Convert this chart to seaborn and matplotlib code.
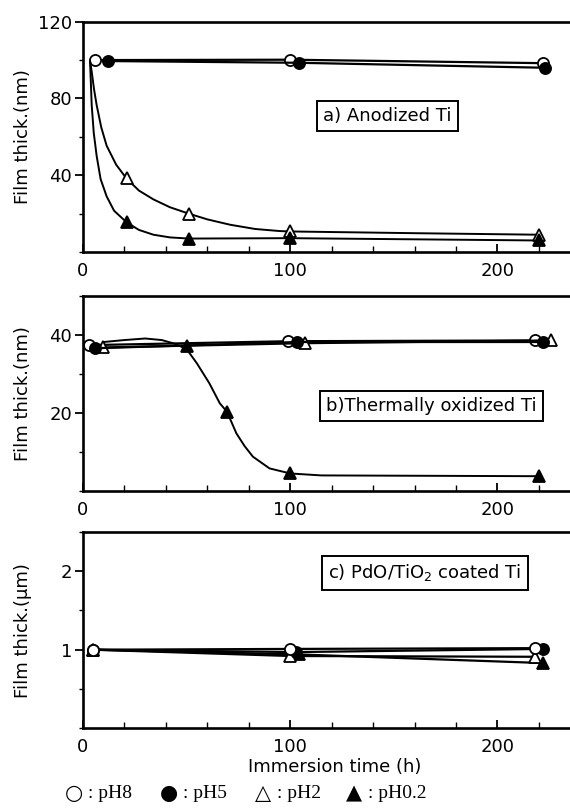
import matplotlib
matplotlib.use("Agg")
import matplotlib.pyplot as plt
from matplotlib.ticker import MultipleLocator
import seaborn as sns

# ---- panel a) anodized Ti  (h, nm)
a_t_ph8 = [6, 100, 222]
a_v_ph8 = [100, 100.2, 98.4]
a_t_ph5 = [12, 104, 223]
a_v_ph5 = [99.5, 98.6, 96]
a_t_ph2 = [21, 51, 100, 220]
a_v_ph2 = [38.3, 20, 10.7, 9]
a_t_ph02 = [21, 51, 100, 220]
a_v_ph02 = [15.5, 7, 7.2, 6]
# hand drawn curves
a_curve_ph2_t = [3.4, 4.2, 5.3, 6.6, 8.8, 11.4, 16, 21, 27, 34, 42, 51, 60, 71, 83, 95, 100, 160, 220]
a_curve_ph2_v = [99.5, 94, 85, 76.5, 65, 55.4, 45.5, 38.3, 32, 27.4, 23.3, 20, 17, 14.2, 12, 10.9, 10.7, 9.8, 9]
a_curve_ph02_t = [3.4, 3.8, 4.2, 5.2, 6.6, 8.5, 11.4, 15, 21, 27, 34, 42, 51, 100, 220]
a_curve_ph02_v = [99.5, 88, 76.5, 62, 50, 38, 29, 21.5, 15.5, 11.5, 9, 7.6, 7, 7.2, 6]

# ---- panel b) thermally oxidized Ti  (h, nm)
b_t_ph8 = [3, 99, 218]
b_v_ph8 = [37.4, 38.4, 38.6]
b_t_ph5 = [6, 103.5, 222]
b_v_ph5 = [36.6, 38.2, 38.2]
b_t_ph2 = [9.5, 107, 226]
b_v_ph2 = [36.8, 37.9, 38.6]
b_t_ph02 = [50, 69.5, 100, 220]
b_v_ph02 = [37.3, 20.3, 4.5, 3.8]
b_curve_t = [10, 20, 30, 38, 44, 50, 55, 61, 66, 69.5, 74, 78, 82, 90, 100, 115, 220]
b_curve_v = [38.2, 38.7, 39.1, 38.7, 37.8, 36.4, 32.7, 27.6, 22.5, 20.3, 14.8, 11.5, 8.8, 5.8, 4.5, 4.0, 3.8]

# ---- panel c) PdO/TiO2 coated Ti  (h, um)
c_t_ph8 = [5, 100, 218]
c_v_ph8 = [1.0, 1.01, 1.02]
c_t_ph5 = [5, 103, 222]
c_v_ph5 = [1.0, 0.97, 1.01]
c_t_ph2 = [5, 100, 218]
c_v_ph2 = [1.0, 0.92, 0.91]
c_t_ph02 = [5, 104, 222]
c_v_ph02 = [1.0, 0.94, 0.83]

x_ticks = [0, 100, 200]
labels = ["a) Anodized Ti", "b)Thermally oxidized Ti", r"c) PdO/TiO$_2$ coated Ti"]
ylabels = ["Film thick.(nm)", "Film thick.(nm)", "Film thick.(\u03bcm)"]
legend_sym = ["\u25cb", "\u25cf", "\u25b3", "\u25b2"]
legend_lab = [": pH8", ": pH5", ": pH2", ": pH0.2"]

sns.set_style("ticks")
plt.rcParams["font.family"] = ["DejaVu Sans"]
plt.rcParams["mathtext.fontset"] = "dejavusans"
for k in ["text.color", "axes.labelcolor", "axes.edgecolor", "xtick.color", "ytick.color"]:
    plt.rcParams[k] = "black"

fig = plt.figure(figsize=(5.7, 8.1), dpi=100)
ax_a = fig.add_axes([0.1456, 0.6889, 0.8544, 0.2843])
ax_b = fig.add_axes([0.1456, 0.3938, 0.8544, 0.2408])
ax_c = fig.add_axes([0.1456, 0.1010, 0.8544, 0.2422])

OPEN = dict(markerfacecolor="white", markeredgecolor="black")
FULL = dict(markerfacecolor="black", markeredgecolor="black")


def series(ax, t, v, marker, face, ms=8, lw=1.6):
    sns.lineplot(x=t, y=v, ax=ax, color="black", lw=lw, sort=False, estimator=None,
                 marker=marker, markersize=ms, markeredgewidth=1.3, **face)


def curve(ax, t, v):
    sns.lineplot(x=t, y=v, ax=ax, color="black", lw=1.4, sort=False, estimator=None)


def points(ax, t, v, marker, face, ms=8):
    sns.lineplot(x=t, y=v, ax=ax, color="black", lw=0, sort=False, estimator=None,
                 marker=marker, markersize=ms, markeredgewidth=1.3, **face)


# a
series(ax_a, a_t_ph8, a_v_ph8, "o", OPEN)
series(ax_a, a_t_ph5, a_v_ph5, "o", FULL)
curve(ax_a, a_curve_ph2_t, a_curve_ph2_v)
curve(ax_a, a_curve_ph02_t, a_curve_ph02_v)
points(ax_a, a_t_ph2, a_v_ph2, "^", OPEN)
points(ax_a, a_t_ph02, a_v_ph02, "^", FULL)

# b
series(ax_b, b_t_ph8, b_v_ph8, "o", OPEN)
series(ax_b, b_t_ph2, b_v_ph2, "^", OPEN)
series(ax_b, b_t_ph5, b_v_ph5, "o", FULL)
curve(ax_b, b_curve_t, b_curve_v)
points(ax_b, b_t_ph02, b_v_ph02, "^", FULL)

# c
series(ax_c, c_t_ph02, c_v_ph02, "^", FULL)
series(ax_c, c_t_ph2, c_v_ph2, "^", OPEN)
series(ax_c, c_t_ph5, c_v_ph5, "o", FULL)
series(ax_c, c_t_ph8, c_v_ph8, "o", OPEN)

limits = [(0, 120, 40, 20), (0, 50, 20, 10), (0, 2.5, 1, 0.5)]
boxes = [(147, 70.8), (168, 21.8), (165, 1.98)]
for ax, (y0, y1, maj, mnr), lab, yl, (bx, by) in zip([ax_a, ax_b, ax_c], limits, labels, ylabels, boxes):
    ax.set_xlim(0, 235)
    ax.set_ylim(y0, y1)
    ax.set_xticks(x_ticks)
    ax.xaxis.set_minor_locator(MultipleLocator(20))
    ax.yaxis.set_minor_locator(MultipleLocator(mnr))
    if maj == 1:
        ax.set_yticks([1, 2])
        ax.set_yticklabels(["1", "2"])
    else:
        ax.set_yticks([t for t in range(maj, int(y1) + 1, maj)])
    ax.tick_params(axis="x", direction="in", length=6, width=1.3, labelsize=13, pad=7)
    ax.tick_params(axis="x", which="minor", direction="in", length=4, width=1.0)
    ax.tick_params(axis="y", direction="out", length=6, width=1.3, labelsize=13, pad=2)
    ax.tick_params(axis="y", which="minor", direction="out", length=3, width=1.0)
    for s in ["left", "bottom", "top"]:
        ax.spines[s].set_linewidth(1.9)
        ax.spines[s].set_visible(True)
    ax.spines["right"].set_visible(False)
    ax.set_ylabel(yl, fontsize=13)
    ax.yaxis.set_label_coords(-0.105, 0.5)
    ax.text(bx, by, lab, fontsize=13, ha="center", va="center",
            bbox=dict(boxstyle="square,pad=0.35", fc="white", ec="black", lw=1.4))

ax_c.set_xlabel("Immersion time (h)", fontsize=13)
ax_c.xaxis.set_label_coords(0.517, -0.20)
ax_c.xaxis.label.set_va("center")

# legend line under the figure: symbol + serif label
sym_x = [74, 169, 263, 354]
for sx, sym, lab in zip(sym_x, legend_sym, legend_lab):
    fig.text(sx / 570, 1 - 793 / 810, sym, ha="center", va="center", fontsize=15,
             family=["DejaVu Sans"])
    fig.text((sx + 14) / 570, 1 - 794 / 810, lab, ha="left", va="center", fontsize=14,
             family=["Liberation Serif", "DejaVu Sans"])

fig.savefig("out.png", dpi=100)
